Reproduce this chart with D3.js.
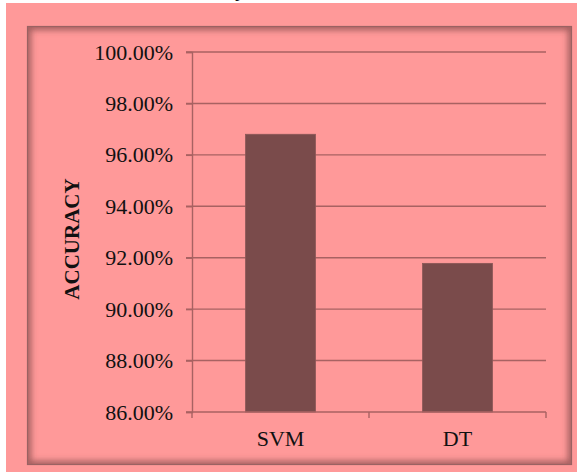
<!DOCTYPE html>
<html>
<head>
<meta charset="utf-8">
<script src="https://cdn.jsdelivr.net/npm/d3@7"></script>
<style>
  html, body { margin: 0; padding: 0; background: #fff; }
  svg { display: block; }
  text { font-family: 'Liberation Serif', 'Times New Roman', serif; fill: #111; }
</style>
</head>
<body>
<svg id="chart" width="577" height="472"></svg>
<script>
// ── Data ──────────────────────────────────────────────────
const categories = ['SVM', 'DT'];
const accuracy = [0.968, 0.9178];
const yTicks = [0.86, 0.88, 0.90, 0.92, 0.94, 0.96, 0.98, 1.00];
const yTitle = 'ACCURACY';

const W = 577, H = 472;
const svg = d3.select('#chart');
const defs = svg.append('defs');

// Inner shadow of the framed panel
const panel = { x: 27, y: 26, w: 545, h: 439 };
defs.append('clipPath').attr('id', 'panelClip')
  .append('rect')
  .attr('x', panel.x).attr('y', panel.y)
  .attr('width', panel.w).attr('height', panel.h);
const blur = defs.append('filter').attr('id', 'soft')
  .attr('x', '-10%').attr('y', '-10%').attr('width', '120%').attr('height', '120%');
blur.append('feGaussianBlur').attr('stdDeviation', 3);

// Page background
svg.append('rect')
  .attr('x', 6).attr('y', 3)
  .attr('width', W - 6).attr('height', H - 3)
  .attr('fill', '#ff9999');

// Cut-off title above the chart (only its descender shows)
svg.append('text')
  .attr('x', 246).attr('y', -4)
  .attr('text-anchor', 'end')
  .attr('font-size', 22)
  .attr('font-weight', 'bold')
  .text('Accuracy');

// Panel with inset shadow
svg.append('rect')
  .attr('x', panel.x).attr('y', panel.y)
  .attr('width', panel.w).attr('height', panel.h)
  .attr('fill', '#ff9999');
svg.append('g').attr('clip-path', 'url(#panelClip)')
  .append('rect')
  .attr('x', panel.x).attr('y', panel.y)
  .attr('width', panel.w).attr('height', panel.h)
  .attr('fill', 'none')
  .attr('stroke', '#7a4444')
  .attr('stroke-opacity', 0.7)
  .attr('stroke-width', 8)
  .attr('filter', 'url(#soft)');
svg.append('rect')
  .attr('x', panel.x + 0.5).attr('y', panel.y + 0.5)
  .attr('width', panel.w - 1).attr('height', panel.h - 1)
  .attr('fill', 'none')
  .attr('stroke', '#9a6262')
  .attr('stroke-width', 1.2);

// ── Scales ────────────────────────────────────────────────
const plot = { left: 192, right: 546, top: 52, bottom: 412 };
const y = d3.scaleLinear().domain([0.86, 1.0]).range([plot.bottom, plot.top]);
const x = d3.scaleBand().domain(categories)
  .range([plot.left, plot.right])
  .paddingInner(0.605).paddingOuter(0.3025);
const step = x.step();

const lineColor = '#a86262';

// Gridlines
svg.append('g').selectAll('line.grid')
  .data(yTicks.filter(t => t > 0.86))
  .join('line')
  .attr('x1', plot.left - 6).attr('x2', plot.right)
  .attr('y1', d => y(d)).attr('y2', d => y(d))
  .attr('stroke', lineColor).attr('stroke-width', 1.4);

// Bars
svg.append('g').selectAll('rect.bar')
  .data(categories)
  .join('rect')
  .attr('x', d => x(d))
  .attr('width', x.bandwidth())
  .attr('y', (d, i) => y(accuracy[i]))
  .attr('height', (d, i) => y(0.86) - y(accuracy[i]))
  .attr('fill', '#7a4b4b')
  .attr('stroke', '#8a5656')
  .attr('stroke-width', 0.8);

// Y axis
const yAxis = d3.axisLeft(y).tickValues(yTicks).tickFormat(d3.format('.2%'))
  .tickSize(6).tickPadding(13);
const gy = svg.append('g').attr('transform', `translate(${plot.left},0)`).call(yAxis);
gy.select('.domain').attr('stroke', lineColor).attr('stroke-width', 1.4);
gy.selectAll('.tick line').attr('stroke', lineColor).attr('stroke-width', 1.4);
gy.selectAll('.tick text')
  .attr('font-family', "'Liberation Serif', serif")
  .attr('font-size', 22)
  .attr('fill', '#151515');

// X axis
svg.append('line')
  .attr('x1', plot.left - 6).attr('x2', plot.right)
  .attr('y1', plot.bottom).attr('y2', plot.bottom)
  .attr('stroke', lineColor).attr('stroke-width', 1.4);
const boundaries = [plot.left].concat(categories.map((c, i) => plot.left + step * (i + 1)));
svg.append('g').selectAll('line.xtick')
  .data(boundaries)
  .join('line')
  .attr('x1', d => d).attr('x2', d => d)
  .attr('y1', plot.bottom).attr('y2', plot.bottom + 6)
  .attr('stroke', lineColor).attr('stroke-width', 1.4);
svg.append('g').selectAll('text.xlabel')
  .data(categories)
  .join('text')
  .attr('x', d => x(d) + x.bandwidth() / 2)
  .attr('y', 446)
  .attr('text-anchor', 'middle')
  .attr('font-size', 22)
  .text(d => d);

// Y title
svg.append('text')
  .attr('transform', `translate(79,239) rotate(-90)`)
  .attr('text-anchor', 'middle')
  .attr('font-size', 21)
  .attr('font-weight', 'bold')
  .text(yTitle);
</script>
</body>
</html>
